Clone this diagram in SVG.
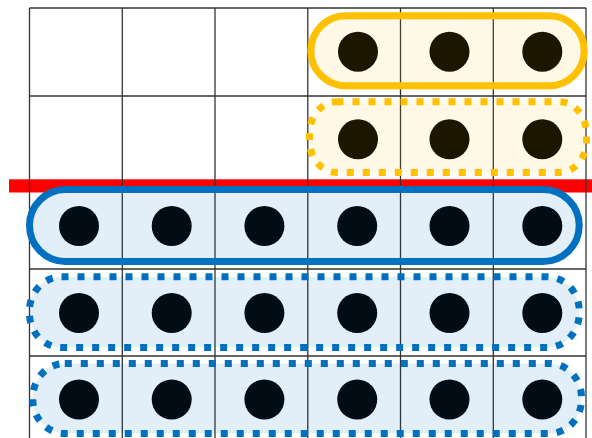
<svg xmlns="http://www.w3.org/2000/svg" width="592" height="438" viewBox="0 0 592 438">
  <style>
    .grid line { stroke: #333333; stroke-width: 1.3; }
    .og { fill: #ffc000; fill-opacity: 0.1; stroke: #ffc000; stroke-width: 7; }
    .bl { fill: #0070c0; fill-opacity: 0.11; stroke: #0070c0; stroke-width: 7; }
    .dash { stroke-dasharray: 7 9; }
    .dt { fill: #1d1500; }
    .db { fill: #010c15; }
  </style>
  <rect width="592" height="438" fill="#ffffff"/>
  <g id="separator">
    <rect x="9" y="179.3" width="583" height="13.2" fill="#ff0000"/>
  </g>
  <g id="grid" class="grid">
    <line x1="29.5" y1="8" x2="586" y2="8"/>
    <line x1="29.5" y1="96" x2="586" y2="96"/>
    <line x1="29.5" y1="269" x2="586" y2="269"/>
    <line x1="29.5" y1="356" x2="586" y2="356"/>
    <line x1="29.5" y1="8" x2="29.5" y2="438"/>
    <line x1="122.3" y1="8" x2="122.3" y2="438"/>
    <line x1="215" y1="8" x2="215" y2="438"/>
    <line x1="307.8" y1="8" x2="307.8" y2="438"/>
    <line x1="400.5" y1="8" x2="400.5" y2="438"/>
    <line x1="493.3" y1="8" x2="493.3" y2="438"/>
    <line x1="586" y1="8" x2="586" y2="438"/>
  </g>
  <g id="connectors"></g>
  <g id="orange-solid">
    <rect class="og" x="310.8" y="15.8" width="273.4" height="70" rx="35" ry="35"/>
    <circle class="dt" cx="358" cy="51.7" r="20"/>
    <circle class="dt" cx="449.5" cy="51.7" r="20"/>
    <circle class="dt" cx="542.3" cy="51.7" r="20"/>
  </g>
  <g id="orange-dotted">
    <rect class="og dash" x="309.5" y="101.8" width="277" height="70.7" rx="27" ry="32"/>
    <circle class="dt" cx="358" cy="139.3" r="20"/>
    <circle class="dt" cx="449.5" cy="139.3" r="20"/>
    <circle class="dt" cx="542.3" cy="139.3" r="20"/>
  </g>
  <g id="blue-solid">
    <rect class="bl" x="29.5" y="189.5" width="549.7" height="72" rx="36" ry="36"/>
    <circle class="db" cx="79" cy="226" r="20"/>
    <circle class="db" cx="171.7" cy="226" r="20"/>
    <circle class="db" cx="264.4" cy="226" r="20"/>
    <circle class="db" cx="357.2" cy="226" r="20"/>
    <circle class="db" cx="449.5" cy="226" r="20"/>
    <circle class="db" cx="542.3" cy="226" r="20"/>
  </g>
  <g id="blue-dotted-1">
    <rect class="bl dash" x="29.5" y="276.8" width="549.7" height="70.7" rx="32" ry="34"/>
    <circle class="db" cx="79" cy="313" r="20"/>
    <circle class="db" cx="171.7" cy="313" r="20"/>
    <circle class="db" cx="264.4" cy="313" r="20"/>
    <circle class="db" cx="357.2" cy="313" r="20"/>
    <circle class="db" cx="449.5" cy="313" r="20"/>
    <circle class="db" cx="542.3" cy="313" r="20"/>
  </g>
  <g id="blue-dotted-2">
    <rect class="bl dash" x="32.8" y="363.5" width="548.7" height="70" rx="32" ry="34"/>
    <circle class="db" cx="79" cy="399.5" r="20"/>
    <circle class="db" cx="171.7" cy="399.5" r="20"/>
    <circle class="db" cx="264.4" cy="399.5" r="20"/>
    <circle class="db" cx="357.2" cy="399.5" r="20"/>
    <circle class="db" cx="449.5" cy="399.5" r="20"/>
    <circle class="db" cx="542.3" cy="399.5" r="20"/>
  </g>
</svg>
